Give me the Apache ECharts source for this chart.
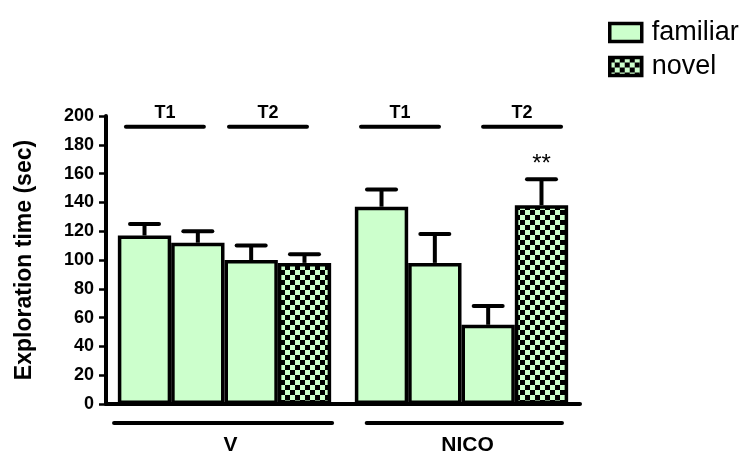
<!DOCTYPE html>
<html>
<head>
<meta charset="utf-8">
<script src="https://cdn.jsdelivr.net/npm/echarts@6/dist/echarts.min.js"></script>
<style>html,body{margin:0;padding:0;background:#fff}#c{width:745px;height:457px}</style>
</head>
<body>
<div id="c"></div>
<script>
// ---- data ----
var groups = ['V', 'NICO'];
var slotNames = ['familiar', 'familiar', 'familiar', 'novel'];
var t1ObjA = [117, 137];
var t1ObjB = [112, 98];
var t2Familiar = [100, 55];
var t2Novel = [98, 138];
var t1ObjAErr = [125, 149];
var t1ObjBErr = [120, 118];
var t2FamiliarErr = [110, 68];
var t2NovelErr = [104, 156];
var t2NovelSig = ['', '**'];
var yTicks = [0, 20, 40, 60, 80, 100, 120, 140, 160, 180, 200];
var phaseLabels = ['T1', 'T2'];

var means = [t1ObjA, t1ObjB, t2Familiar, t2Novel];
var uppers = [t1ObjAErr, t1ObjBErr, t2FamiliarErr, t2NovelErr];
var sigs = [['', ''], ['', ''], ['', ''], t2NovelSig];

var GREEN = '#ccffcc';
var FONT = 'Liberation Sans, Arial, sans-serif';
var CATGAP = 0.1;

// checker pattern
var pc = document.createElement('canvas');
pc.width = 10; pc.height = 10;
var px = pc.getContext('2d');
px.fillStyle = GREEN; px.fillRect(0, 0, 10, 10);
px.fillStyle = '#000'; px.fillRect(0, 0, 5, 5); px.fillRect(5, 5, 5, 5);
var checker = { image: pc, repeat: 'repeat' };

var series = [];
means.forEach(function (arr, i) {
  series.push({
    type: 'bar', name: slotNames[i], data: arr,
    barGap: 0, barCategoryGap: (CATGAP * 100) + '%',
    itemStyle: { color: slotNames[i] === 'novel' ? checker : GREEN, borderColor: '#000', borderWidth: 3.5 },
    emphasis: { disabled: true }, z: 3
  });
});

// error bars
var errData = [];
for (var s = 0; s < 4; s++) for (var g = 0; g < groups.length; g++)
  errData.push([g, s, means[s][g], uppers[s][g], sigs[s][g]]);

series.push({
  type: 'custom', name: 'err', data: errData, z: 2, silent: true,
  encode: { x: 0, y: 3 },
  renderItem: function (params, api) {
    var g = api.value(0), slot = api.value(1);
    var band = api.size([1, 0])[0];
    var bw = band * (1 - CATGAP) / 4;
    var base = api.coord([g, api.value(2)]);
    var top = api.coord([g, api.value(3)]);
    var x = base[0] + (slot - 1.5) * bw;
    var capW = 29;
    var st = { stroke: '#000', lineWidth: 4 };
    var children = [
      { type: 'line', shape: { x1: x, y1: base[1], x2: x, y2: top[1] }, style: st },
      { type: 'line', shape: { x1: x - capW / 2, y1: top[1], x2: x + capW / 2, y2: top[1] }, style: { stroke: '#000', lineWidth: 4, lineCap: 'round' } }
    ];
    var sig = errData[params.dataIndex][4];
    if (sig) children.push({ type: 'text', style: { text: sig, x: x, y: top[1] - 3, align: 'center', verticalAlign: 'bottom', font: '24px ' + FONT, fill: '#000' } });
    return { type: 'group', children: children };
  }
});

// phase brackets (T1/T2) and group underlines
var brackets = [
  [0, -0.416, -0.087, 0], [0, 0.019, 0.348, 1],
  [1, -0.424, -0.095, 0], [1, 0.091, 0.42, 1]
];
var underlines = [[0, -0.466, 0.454], [1, -0.40, 0.424]];
series.push({
  type: 'custom', name: 'ann', data: brackets, clip: false, silent: true, z: 4,
  encode: { x: 0 },
  renderItem: function (params, api) {
    var b = brackets[params.dataIndex];
    var band = api.size([1, 0])[0];
    var c = api.coord([b[0], 192.5]);
    var x1 = c[0] + b[1] * band, x2 = c[0] + b[2] * band;
    var children = [
      { type: 'line', shape: { x1: x1, y1: c[1], x2: x2, y2: c[1] }, style: { stroke: '#000', lineWidth: 4, lineCap: 'round' } },
      { type: 'text', style: { text: phaseLabels[b[3]], x: (x1 + x2) / 2, y: c[1] - 14, align: 'center', verticalAlign: 'middle', font: 'bold 18px ' + FONT, fill: '#000' } }
    ];
    if (params.dataIndex < underlines.length) {
      var u = underlines[params.dataIndex];
      var cu = api.coord([u[0], -13.2]);
      children.push({ type: 'line', shape: { x1: cu[0] + u[1] * band, y1: cu[1], x2: cu[0] + u[2] * band, y2: cu[1] }, style: { stroke: '#000', lineWidth: 4, lineCap: 'round' } });
    }
    return { type: 'group', children: children };
  }
});

var chart = echarts.init(document.getElementById('c'), null, { renderer: 'canvas' });
chart.setOption({
  animation: false,
  backgroundColor: '#fff',
  grid: { left: 106, right: 165, top: 116, bottom: 53, containLabel: false },
  legend: {
    data: ['familiar', 'novel'], orient: 'vertical', left: 603, top: 14,
    icon: 'rect', itemWidth: 32, itemHeight: 18, itemGap: 7,
    itemStyle: { borderColor: '#000', borderWidth: 3.5 },
    textStyle: { fontFamily: FONT, fontSize: 27, lineHeight: 20, color: '#000', padding: [0, 0, 0, 5] },
    selectedMode: false
  },
  xAxis: {
    type: 'category', data: groups,
    axisLine: { lineStyle: { color: '#000', width: 4 } },
    axisTick: { show: false },
    axisLabel: { margin: 31, color: '#000', fontWeight: 'bold', fontSize: 21, fontFamily: FONT, padding: [0, 0, 0, 12] },
    splitLine: { show: false }
  },
  yAxis: {
    type: 'value', min: 0, max: 200, interval: 20,
    name: 'Exploration time (sec)', nameLocation: 'middle', nameGap: 70,
    nameTextStyle: { color: '#000', fontWeight: 'bold', fontSize: 23, fontFamily: FONT },
    axisLine: { show: true, lineStyle: { color: '#000', width: 4 } },
    axisTick: { show: true, length: 7, lineStyle: { color: '#000', width: 2.5 } },
    axisLabel: { margin: 12, color: '#000', fontWeight: 'bold', fontSize: 18, fontFamily: FONT,
      formatter: function (v) { return yTicks.indexOf(v) >= 0 ? String(v) : ''; } },
    splitLine: { show: false }
  },
  series: series
});
</script>
</body>
</html>
